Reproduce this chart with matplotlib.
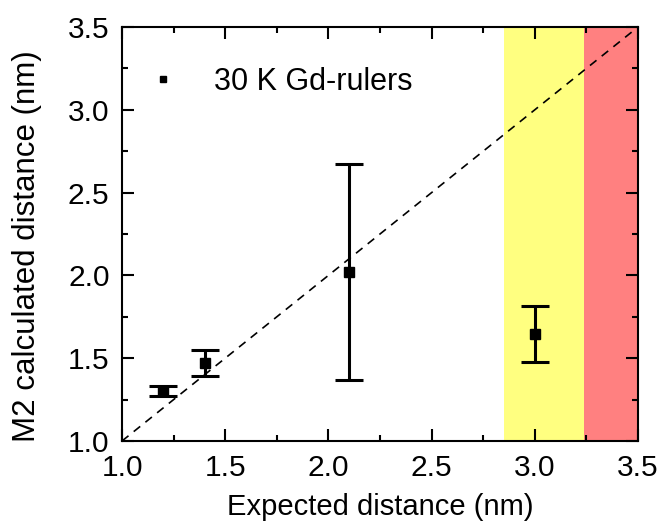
import matplotlib
matplotlib.use("Agg")
import matplotlib.pyplot as plt
from matplotlib.ticker import MultipleLocator

plt.rcParams['font.family'] = ['Liberation Sans', 'DejaVu Sans']

# Gd-ruler measurements
expected = [1.2, 1.4, 2.1, 3.0]
calculated = [1.30, 1.47, 2.02, 1.645]
errors = [0.03, 0.08, 0.65, 0.17]

# shaded distance ranges
yellow_range = (2.85, 3.24)
red_range = (3.24, 3.5)

fig = plt.figure(figsize=(6.63, 5.24), dpi=100)
ax = fig.add_axes([122 / 663, 1 - 441 / 524, (638 - 122) / 663, (441 - 27) / 524])

ax.axvspan(*yellow_range, color='#ffff80', lw=0, zorder=0)
ax.axvspan(*red_range, color='#ff8080', lw=0, zorder=0)

ax.plot([1.0, 3.5], [1.0, 3.5], ls=(0, (5, 4)), color='black', lw=1.2, zorder=1)

ax.errorbar(expected, calculated, yerr=errors, fmt='s', color='black',
            ms=6.5, elinewidth=2.2, capsize=10, capthick=2.2, zorder=3,
            label='30 K Gd-rulers')

ax.set_xlim(1.0, 3.5)
ax.set_ylim(1.0, 3.5)
ax.xaxis.set_major_locator(MultipleLocator(0.5))
ax.xaxis.set_minor_locator(MultipleLocator(0.25))
ax.yaxis.set_major_locator(MultipleLocator(0.5))
ax.yaxis.set_minor_locator(MultipleLocator(0.25))
ax.tick_params(which='both', direction='in', top=True, right=True, width=1.5,
               labelsize=21.5)
ax.tick_params(which='major', length=8.8)
ax.tick_params(which='minor', length=4.4)
ax.tick_params(axis='x', which='major', pad=9)
ax.tick_params(axis='y', which='major', pad=9)
for s in ax.spines.values():
    s.set_linewidth(1.5)

ax.set_xlabel('Expected distance (nm)', fontsize=21, labelpad=8)
ax.set_ylabel('M2 calculated distance (nm)', fontsize=22.5)
ax.yaxis.set_label_coords(-0.155, 0.47)

handles, labels = ax.get_legend_handles_labels()
leg = ax.legend([handles[0][0]], labels, loc='upper left', frameon=False,
                fontsize=22, markerscale=0.75, handlelength=0.8,
                handletextpad=1.25, bbox_to_anchor=(0.003, 0.97))

fig.savefig('out.png', dpi=100)
